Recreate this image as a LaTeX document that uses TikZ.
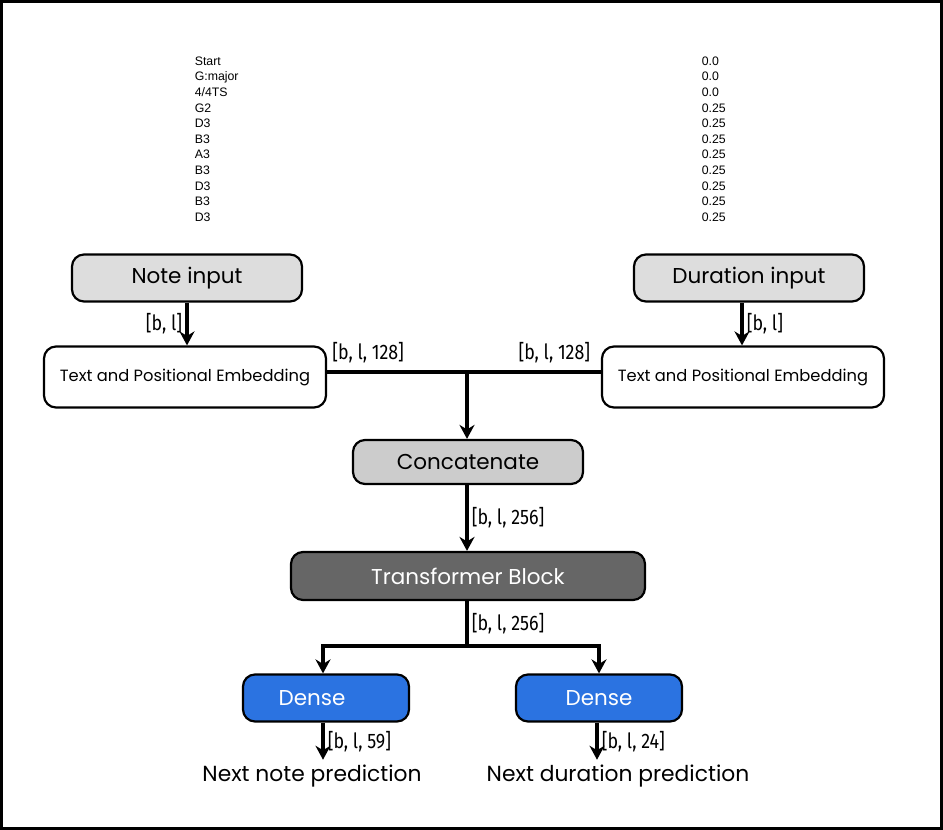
\documentclass[tikz,border=0pt]{standalone}
\usepackage{fontspec}
\setmainfont{Poppins}
\newfontfamily\seqfont{Liberation Sans}
\newfontfamily\dimfont[FakeStretch=0.85]{Fira Sans}
\usetikzlibrary{arrows.meta,positioning}
\definecolor{inputgray}{HTML}{DDDDDD}
\definecolor{catgray}{HTML}{CCCCCC}
\definecolor{blockgray}{HTML}{666666}
\definecolor{denseblue}{HTML}{2B73E1}

\begin{document}
\begin{tikzpicture}[x=1pt,y=-1pt,>={Stealth[length=14pt,width=15pt]},line width=3.6pt,
box/.style={draw,rounded corners=12pt,line width=2.2pt,inner sep=0pt,font=\fontsize{21.5}{26}\selectfont},
dim/.style={font=\dimfont\fontsize{21}{24}\selectfont,inner sep=3pt},
seq/.style={font=\seqfont\fontsize{12.3}{15.6}\selectfont,align=left,anchor=north west,inner sep=0pt}]
\useasboundingbox (0,0) rectangle (943,830);
\draw[line width=3pt] (1.5,1.5) rectangle (941.5,828.5);

% token lists
\node[seq] (noteSeq) at (193,55) {Start\\G:major\\4/4TS\\G2\\D3\\B3\\A3\\B3\\D3\\B3\\D3};
\node[seq] (durSeq) at (700,55) {0.0\\0.0\\0.0\\0.25\\0.25\\0.25\\0.25\\0.25\\0.25\\0.25\\0.25};

% inputs and embeddings
\node[box,fill=inputgray,minimum width=230pt,minimum height=47pt] (noteIn) at (187,278) {Note input};
\node[box,fill=inputgray,minimum width=230pt,minimum height=47pt] (durIn) at (749,278) {Duration input};
\node[box,fill=white,minimum width=282pt,minimum height=61pt,font=\fontsize{16.3}{19}\selectfont] (noteEmb) at (185,377) {Text and Positional Embedding};
\node[box,fill=white,minimum width=282pt,minimum height=61pt,font=\fontsize{16.3}{19}\selectfont] (durEmb) at (743,377) {Text and Positional Embedding};

\coordinate (noteX) at (187,0);
\coordinate (durX) at (742,0);
\draw[->] (noteX |- noteIn.south) -- node[dim,left] {[b, l]} (noteX |- noteEmb.north);
\draw[->] (durX |- durIn.south) -- node[dim,right] {[b, l]} (durX |- durEmb.north);

\coordinate (join) at (467,372);
\draw (noteEmb.east |- join) -- node[dim,pos=0.15,above=4pt] {[b, l, 128]}
      node[dim,pos=0.83,above=4pt] {[b, l, 128]} (durEmb.west |- join);

% concatenate and transformer
\node[box,fill=catgray,minimum width=230pt,minimum height=44pt] (concat) at (468,462) {Concatenate};
\node[box,fill=blockgray,text=white,minimum width=354pt,minimum height=48pt] (trans) at (468,576) {Transformer Block};

\draw[->] (join) -- (join |- concat.north);
\draw[->] (join |- concat.south) -- node[dim,right] {[b, l, 256]} (join |- trans.north);

% outputs
\node[box,fill=denseblue,text=white,minimum width=166pt,minimum height=47pt] (denseL) at (326,698) {Dense\hspace*{28pt}};
\node[box,fill=denseblue,text=white,minimum width=166pt,minimum height=47pt] (denseR) at (599,698) {Dense};

\node[font=\fontsize{21.8}{26}\selectfont] (nextNote) at (312,776) {Next note prediction};
\node[font=\fontsize{21.8}{26}\selectfont] (nextDur) at (618,776) {Next duration prediction};

\coordinate (split) at (467,646);
\coordinate (leftX) at (323,0);
\coordinate (rightX) at (599,0);
\coordinate (rightOutX) at (597,0);
\draw (join |- trans.south) -- node[dim,right] {[b, l, 256]} (split);
\draw[->] (split) -| (leftX |- denseL.north);
\draw[->] (split) -| (rightX |- denseR.north);

\draw[->] (leftX |- denseL.south) -- node[dim,right] {[b, l, 59]} (leftX |- nextNote.north);
\draw[->] (rightOutX |- denseR.south) -- node[dim,right] {[b, l, 24]} (rightOutX |- nextDur.north);
\end{tikzpicture}
\end{document}
